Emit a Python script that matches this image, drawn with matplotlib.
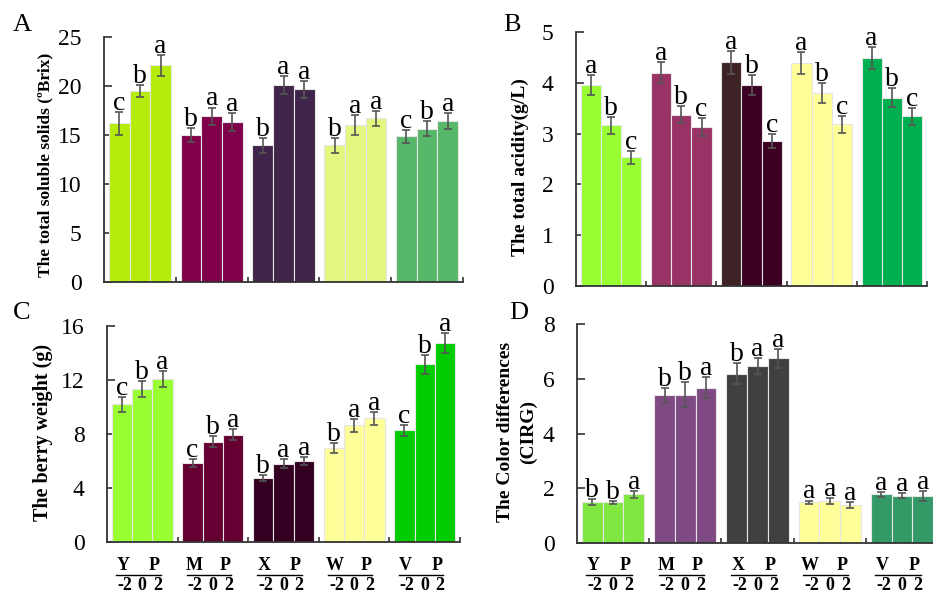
import matplotlib
matplotlib.use("Agg")
import matplotlib.pyplot as plt
from matplotlib.lines import Line2D
from matplotlib.transforms import blended_transform_factory

plt.rcParams['font.family'] = ['Liberation Serif', 'DejaVu Serif']

# groups and treatments
cultivars = ['Y', 'M', 'X', 'W', 'V']
treatments = ['-2', '0', '2']

# A: total soluble solids
tss_mean = [[16.2, 19.5, 22.1], [15.0, 16.9, 16.3], [13.95, 20.1, 19.65],
            [13.95, 16.0, 16.7], [14.85, 15.65, 16.4]]
tss_err = [[1.15, 0.6, 1.1], [0.7, 0.9, 0.9], [0.75, 0.9, 0.9],
           [0.75, 1.0, 0.75], [0.7, 0.8, 0.8]]
tss_sig = [['c', 'b', 'a'], ['b', 'a', 'a'], ['b', 'a', 'a'],
           ['b', 'a', 'a'], ['c', 'b', 'a']]
tss_colors = [['#b5ec0c'] * 3, ['#80004a'] * 3, ['#40244a'] * 3,
              ['#e4f580'] * 3, ['#58b86a'] * 3]

# B: total acidity
ta_mean = [[3.95, 3.16, 2.53], [4.2, 3.375, 3.13], [4.4, 3.95, 2.86],
           [4.39, 3.8, 3.18], [4.49, 3.71, 3.34]]
ta_err = [[0.2, 0.16, 0.13], [0.21, 0.17, 0.17], [0.22, 0.2, 0.14],
          [0.22, 0.19, 0.16], [0.21, 0.19, 0.17]]
ta_sig = [['a', 'b', 'c']] * 5
ta_colors = [['#99ff33'] * 3, ['#993366'] * 3, ['#3d2226', '#3b0022', '#3b0022'],
             ['#ffff99'] * 3, ['#00b050'] * 3]

# C: berry weight
bw_mean = [[10.2, 11.33, 12.07], [5.85, 7.43, 7.95], [4.72, 5.8, 6.0],
           [6.94, 8.64, 9.16], [8.27, 13.16, 14.74]]
bw_err = [[0.55, 0.57, 0.6], [0.32, 0.4, 0.43], [0.23, 0.32, 0.32],
          [0.37, 0.48, 0.47], [0.4, 0.68, 0.74]]
bw_sig = [['c', 'b', 'a'], ['c', 'b', 'a'], ['b', 'a', 'a'],
          ['b', 'a', 'a'], ['c', 'b', 'a']]
bw_colors = [['#99ff33'] * 3, ['#660033'] * 3, ['#330022'] * 3,
             ['#ffff99'] * 3, ['#00cc00'] * 3]

# D: colour differences (CIRG)
cirg_mean = [[1.49, 1.49, 1.78], [5.4, 5.42, 5.68], [6.18, 6.47, 6.75],
             [1.49, 1.53, 1.4], [1.78, 1.73, 1.73]]
cirg_err = [[0.12, 0.05, 0.13], [0.27, 0.46, 0.37], [0.38, 0.28, 0.35],
            [0.06, 0.12, 0.11], [0.09, 0.08, 0.18]]
cirg_sig = [['b', 'b', 'a'], ['b', 'b', 'a'], ['b', 'a', 'a'],
            ['a', 'a', 'a'], ['a', 'a', 'a']]
cirg_colors = [['#80e640'] * 3, ['#7f4a84'] * 3, ['#404040'] * 3,
               ['#ffff99'] * 3, ['#339966'] * 3]

W, H = 933, 594
fig = plt.figure(figsize=(W / 100, H / 100), dpi=100)

BAR_W = 0.288
AX_COL = '#333333'


def draw_panel(ax, means, errs, sig, colors, ymax, ystep):
    for g in range(len(cultivars)):
        for i in range(len(treatments)):
            x = g + 0.5 + (i - 1) * BAR_W
            ax.bar(x, means[g][i], width=BAR_W, color=colors[g][i],
                   edgecolor='#e6e6e6', linewidth=0.8, zorder=2)
            ax.errorbar(x, means[g][i], yerr=errs[g][i], fmt='none',
                        ecolor='#555555', elinewidth=1.2, capsize=2.6,
                        capthick=1.2, zorder=3)
            ax.annotate(sig[g][i], (x, means[g][i] + errs[g][i]),
                        xytext=(0, 1.5), textcoords='offset points',
                        ha='center', va='baseline', fontsize=20)
    ax.set_xlim(0, 5)
    ax.set_ylim(0, ymax)
    ax.set_yticks([ystep * k for k in range(int(round(ymax / ystep)) + 1)])
    ax.set_xticks([])
    ax.set_xticks([1, 2, 3, 4, 5], minor=True)
    ax.tick_params(axis='y', direction='in', length=6, width=1.2,
                   labelsize=17, pad=16, colors=AX_COL, labelcolor='black')
    ax.tick_params(axis='x', which='minor', direction='in', length=3.5,
                   width=1.2, colors=AX_COL, labelbottom=False)
    for s in ('top', 'right'):
        ax.spines[s].set_visible(False)
    for s in ('left', 'bottom'):
        ax.spines[s].set_color(AX_COL)
        ax.spines[s].set_linewidth(1.3)


def group_labels(ax):
    tr = blended_transform_factory(ax.transData, fig.transFigure)
    for g, name in enumerate(cultivars):
        c = g + 0.5
        ax.text(c - 0.27, 1 - 566 / H, name, transform=tr, ha='center',
                va='center', fontsize=13, fontweight='bold', clip_on=False)
        ax.text(c + 0.17, 1 - 566 / H, 'P', transform=tr, ha='center',
                va='center', fontsize=13, fontweight='bold', clip_on=False)
        fig.add_artist(Line2D([c - 0.37, c + 0.26], [1 - 575 / H] * 2,
                              transform=tr, color='black', linewidth=1.0))
        for dx, t in zip((-0.25, 0.0, 0.22), treatments):
            ax.text(c + dx, 1 - 586 / H, t, transform=tr, ha='center',
                    va='center', fontsize=13, fontweight='bold', clip_on=False)


def box(l, r, t, b):
    return [l / W, 1 - b / H, (r - l) / W, (b - t) / H]


axA = fig.add_axes(box(104, 463, 37, 282))
axB = fig.add_axes(box(576, 927, 32, 286))
axC = fig.add_axes(box(107, 460, 326, 542))
axD = fig.add_axes(box(577, 938, 324, 543))

draw_panel(axA, tss_mean, tss_err, tss_sig, tss_colors, 25, 5)
draw_panel(axB, ta_mean, ta_err, ta_sig, ta_colors, 5, 1)
draw_panel(axC, bw_mean, bw_err, bw_sig, bw_colors, 16, 4)
draw_panel(axD, cirg_mean, cirg_err, cirg_sig, cirg_colors, 8, 2)

group_labels(axC)
group_labels(axD)

# y-axis titles
fig.text(45 / W, 1 - 165 / H, 'The total soluble solids (ºBrix)', rotation=90,
         ha='center', va='center', fontsize=12.5, fontweight='bold')
fig.text(520 / W, 1 - 167 / H, 'The total acidity(g/L)', rotation=90,
         ha='center', va='center', fontsize=14, fontweight='bold')
fig.text(43 / W, 1 - 432 / H, 'The berry weight (g)', rotation=90,
         ha='center', va='center', fontsize=14.5, fontweight='bold')
fig.text(517 / W, 1 - 432 / H, 'The Color differences\n(CIRG)', rotation=90,
         ha='center', va='center', fontsize=14, fontweight='bold',
         multialignment='center', linespacing=1.45)

# panel letters
for lab, (px, py) in zip('ABCD', [(22, 25), (512, 25), (22, 313), (519, 313)]):
    fig.text(px / W, 1 - py / H, lab, ha='center', va='center', fontsize=19)

fig.savefig('out.png', dpi=100)
